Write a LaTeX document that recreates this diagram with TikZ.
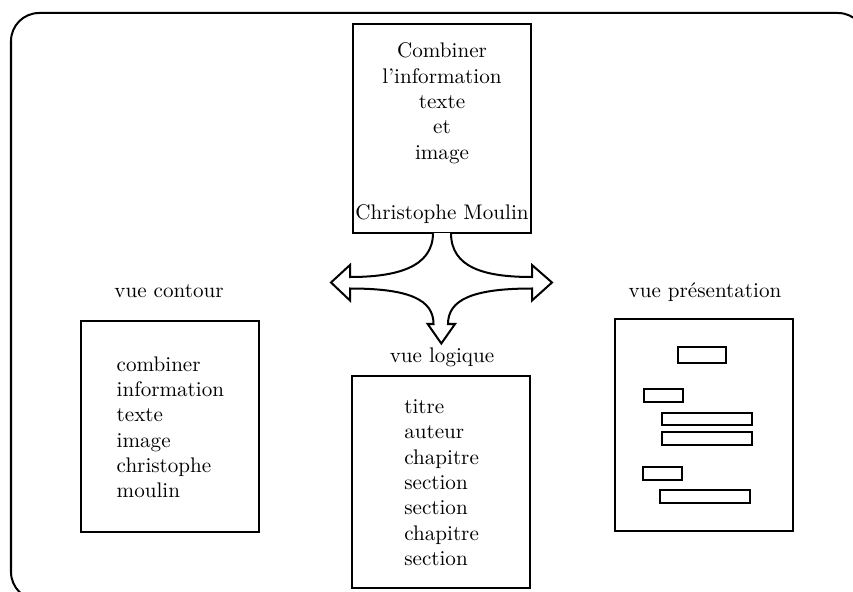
\documentclass[tikz,border=0pt]{standalone}
\usepackage{tikz}

\begin{document}
\begin{tikzpicture}[x=0.01665cm, y=-0.01665cm, line width=0.95pt,
        box/.style={draw, minimum width=84.3pt, minimum height=100pt, inner sep=0pt},
        line/.style={anchor=base, inner sep=0pt},
        item/.style={anchor=base west, inner sep=0pt}]
        \useasboundingbox (0, 0) rectangle (853, 592);
        \draw [rounded corners=13.3pt] (11, 13) rectangle (866, 600);

        % document d'origine
        \node [box, minimum height=99pt] (doc) at (442, 128.5) {};
        \foreach \w [count=\i] in {Combiner, l'information, texte, et, image}
            \node [line] (doc\i) at (442, 57.7+25.35*\i-25.35) {\w};
        \node [line] (docauteur) at (442, 219) {Christophe Moulin};

        % les trois vues
        \node [line] (lblcontour) at (169, 297) {vue contour};
        \node [line] (lbllogique) at (442, 362) {vue logique};
        \node [line] (lblpres) at (705, 297) {vue présentation};

        \node [box] (contour) at (170, 426.5) {};
        \node [box, minimum height=100.4pt] (logique) at (441, 482) {};
        \node [box, minimum height=100.4pt] (pres) at (704, 425) {};

        \foreach \w [count=\i] in {combiner, information, texte, image, christophe, moulin}
            \node [item] (ct\i) at (115.7, 371+25.35*\i-25.35) {\w};
        \foreach \w [count=\i] in {titre, auteur, chapitre, section, section, chapitre, section}
            \node [item] (lg\i) at (403.3, 413.3+25.35*\i-25.35) {\w};

        \foreach \xa/\ya/\xb/\yb in {677.7/346.7/725.7/362.7, 644.3/389/683.3/402,
                662/412.7/752.3/425.3, 661.7/432.3/751.7/445.3,
                642.7/466.7/681.7/479.7, 660/490/750.3/503}
            \draw (\xa, \ya) rectangle (\xb, \yb);

        % fleche a trois branches
        \draw [fill=white, line join=miter] (433, 233)
            .. controls (433, 268) and (395, 277) .. (350, 277)
            -- (350, 265) -- (331, 282.5) -- (350, 300.5) -- (350, 288.5)
            .. controls (410, 288.5) and (433.5, 300) .. (433.5, 324)
            -- (427.7, 324) -- (441.3, 343.5) -- (455, 324) -- (448, 324)
            .. controls (448, 300) and (472, 288.5) .. (532, 288.5)
            -- (532, 300.5) -- (552, 282.5) -- (532, 265) -- (532, 277)
            .. controls (485, 277) and (451, 268) .. (451, 233);
\end{tikzpicture}
\end{document}
